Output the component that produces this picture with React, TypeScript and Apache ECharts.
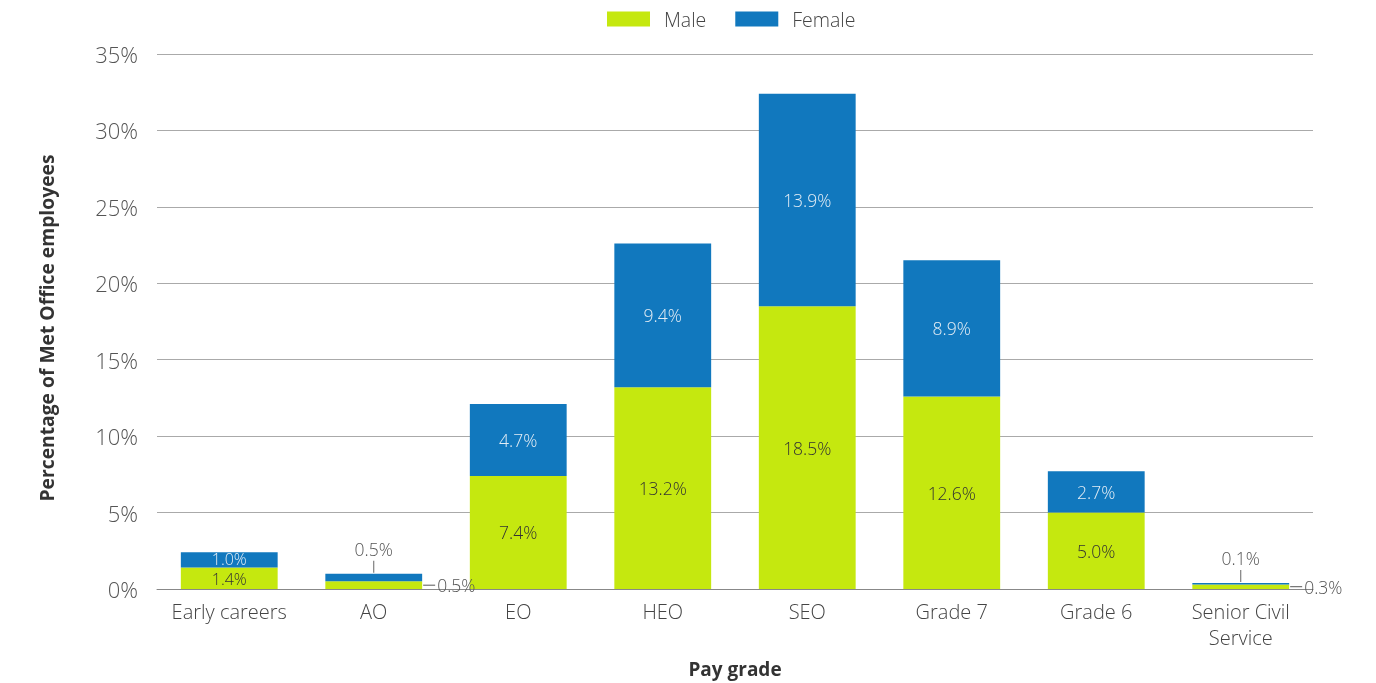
import React, { useEffect, useRef } from "react";
import * as echarts from "echarts";

const categories = ["Early careers", "AO", "EO", "HEO", "SEO", "Grade 7", "Grade 6", "Senior Civil\nService"];
const maleValues = [1.4, 0.5, 7.4, 13.2, 18.5, 12.6, 5.0, 0.3];
const femaleValues = [1.0, 0.5, 4.7, 9.4, 13.9, 8.9, 2.7, 0.1];
const yTicks = [0, 5, 10, 15, 20, 25, 30, 35];

const FONT = "'Open Sans', sans-serif";
const MALE = "#c5e80f";
const FEMALE = "#1178be";
const LIGHT = 300;
const LBL = 17.5;

export default function App() {
  const ref = useRef<HTMLDivElement>(null);
  useEffect(() => {
    if (!ref.current) return;
    const chart = echarts.init(ref.current, null, { renderer: "svg" });
    const fmt = (v: number) => v.toFixed(1) + "%";
    const smallCats = [1, 7];
    const thinCats = [0];
    const maleData = maleValues.map((v, i) =>
      smallCats.includes(i)
        ? {
            value: v,
            label: {
              show: true,
              position: "right",
              distance: 1,
              formatter: () => "{l|}{v|" + fmt(v) + "}",
              rich: {
                l: { width: 12, height: 1, backgroundColor: "#555" },
                v: { color: "#555", fontSize: LBL, fontWeight: LIGHT, fontFamily: FONT, padding: [0, 0, 0, 2] },
              },
            },
          }
        : thinCats.includes(i)
        ? { value: v, label: { fontSize: 16, lineHeight: 14, offset: [0, 1] } }
        : v
    );
    const femaleData = femaleValues.map((v, i) =>
      smallCats.includes(i)
        ? {
            value: v,
            label: {
              show: true,
              position: "top",
              distance: 0,
              formatter: () => "{v|" + fmt(v) + "}\n{l|}",
              rich: {
                v: { color: "#555", fontSize: LBL, fontWeight: LIGHT, fontFamily: FONT, lineHeight: 22, align: "center" },
                l: { width: 1, height: 12, backgroundColor: "#666", align: "center" },
              },
            },
          }
        : thinCats.includes(i)
        ? { value: v, label: { fontSize: 16, lineHeight: 14, offset: [0, -1] } }
        : v
    );
    chart.setOption({
      animation: false,
      textStyle: { fontFamily: FONT },
      legend: {
        top: 4,
        left: 602,
        itemWidth: 43,
        itemHeight: 15,
        itemGap: 29,
        icon: "rect",
        textStyle: { fontSize: 19.5, fontWeight: LIGHT, color: "#444", fontFamily: FONT, padding: [0, 0, 0, 9] },
        data: ["Male", "Female"],
      },
      grid: { left: 157, right: 63, top: 54, bottom: 94 },
      xAxis: {
        type: "category",
        data: categories,
        name: "Pay grade",
        nameLocation: "middle",
        nameGap: 70,
        nameTextStyle: { fontSize: 19, fontWeight: "bold", color: "#333", fontFamily: FONT },
        axisTick: { show: false },
        axisLine: { lineStyle: { color: "#888", width: 1 } },
        axisLabel: { interval: 0, fontSize: 20, fontWeight: LIGHT, color: "#444", margin: 9, lineHeight: 26, fontFamily: FONT },
      },
      yAxis: {
        type: "value",
        min: yTicks[0],
        max: yTicks[yTicks.length - 1],
        interval: 5,
        name: "Percentage of Met Office employees",
        nameLocation: "middle",
        nameGap: 101,
        nameTextStyle: { fontSize: 19.3, fontWeight: "bold", color: "#333", fontFamily: FONT, padding: [0, 13, 0, 0] },
        axisLabel: { fontSize: 22, fontWeight: LIGHT, color: "#555", margin: 19, formatter: (v: number) => v + "%", fontFamily: FONT },
        splitLine: { lineStyle: { color: "#aaa", width: 1 } },
        axisLine: { show: false },
        axisTick: { show: false },
      },
      series: [
        {
          name: "Male",
          type: "bar",
          stack: "total",
          barWidth: "67%",
          itemStyle: { color: MALE },
          label: {
            show: true,
            position: "inside",
            color: "#333",
            fontSize: LBL,
            lineHeight: 14,
            fontWeight: LIGHT,
            fontFamily: FONT,
            formatter: (p: any) => fmt(p.value),
          },
          data: maleData,
        },
        {
          name: "Female",
          type: "bar",
          stack: "total",
          barWidth: "67%",
          itemStyle: { color: FEMALE },
          label: {
            show: true,
            position: "inside",
            color: "#e4edf5",
            fontSize: LBL,
            lineHeight: 14,
            fontWeight: LIGHT,
            fontFamily: FONT,
            formatter: (p: any) => fmt(p.value),
          },
          data: femaleData,
        },
      ],
    });
    return () => chart.dispose();
  }, []);
  return <div ref={ref} style={{ position: "fixed", left: 0, top: 0, width: 1376, height: 683 }} />;
}
